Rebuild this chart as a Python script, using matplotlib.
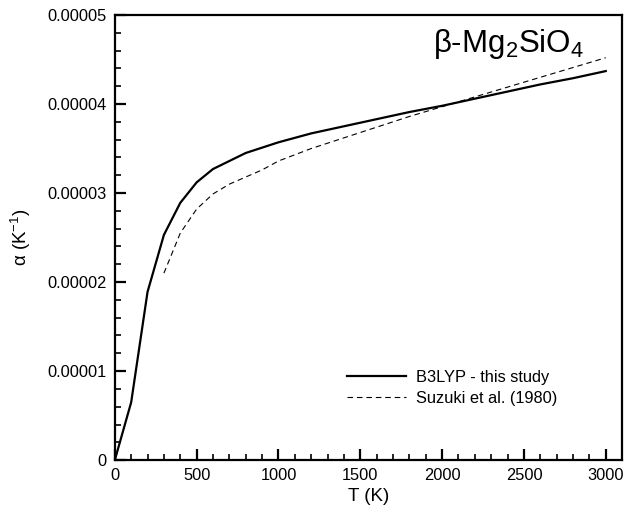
import numpy as np
import matplotlib
matplotlib.use("Agg")
import matplotlib.pyplot as plt
from matplotlib.ticker import MultipleLocator, FuncFormatter

plt.rcParams['font.family'] = ['Liberation Sans', 'DejaVu Sans']
plt.rcParams['mathtext.fontset'] = 'custom'
plt.rcParams['mathtext.rm'] = 'Liberation Sans'
plt.rcParams['mathtext.default'] = 'regular'

# B3LYP - this study
t_b3lyp = [0, 100, 200, 300, 400, 500, 600, 700, 800, 900, 1000, 1200, 1400,
           1600, 1800, 2000, 2200, 2400, 2600, 2800, 3000]
a_b3lyp = [0.0, 0.65, 1.89, 2.53, 2.89, 3.12, 3.27, 3.36, 3.45, 3.51, 3.57, 3.67,
           3.75, 3.83, 3.91, 3.98, 4.06, 4.14, 4.22, 4.29, 4.37]

# Suzuki et al. (1980)
t_suzuki = [300, 400, 500, 600, 700, 800, 900, 1000, 1200, 1400, 1600, 1800,
            2000, 2200, 2400, 2600, 2800, 3000]
a_suzuki = [2.10, 2.55, 2.82, 2.99, 3.10, 3.18, 3.26, 3.36, 3.50, 3.62, 3.74,
            3.86, 3.97, 4.08, 4.19, 4.30, 4.41, 4.52]

fig = plt.figure(figsize=(6.24, 5.17), dpi=100)
ax = fig.add_axes([0.184, 0.110, 0.813, 0.861])

ax.plot(t_b3lyp, np.array(a_b3lyp) * 1e-5, color='black', lw=1.6,
        label='B3LYP - this study')
ax.plot(t_suzuki, np.array(a_suzuki) * 1e-5, color='black', lw=0.8,
        dashes=(5, 3.5), label='Suzuki et al. (1980)')

ax.set_xlim(0, 3100)
ax.set_ylim(0, 0.00005)
ax.xaxis.set_major_locator(MultipleLocator(500))
ax.xaxis.set_minor_locator(MultipleLocator(100))
ax.yaxis.set_major_locator(MultipleLocator(0.00001))
ax.yaxis.set_minor_locator(MultipleLocator(0.000002))
ax.yaxis.set_major_formatter(FuncFormatter(lambda v, p: '0' if abs(v) < 1e-12 else f'{v:.5f}'))

ax.tick_params(which='both', direction='in', top=False, right=False, labelsize=11.8, width=1.2)
ax.tick_params(which='major', length=8, width=1.6, pad=6)
ax.tick_params(which='minor', length=4)
for s in ax.spines.values():
    s.set_linewidth(1.6)

ax.set_xlabel('T (K)', fontsize=13.5, labelpad=3)
ax.set_ylabel('α (K$^{-1}$)', fontsize=13.5, labelpad=10)

ax.text(0.925, 0.935, 'β-Mg$_2$SiO$_4$', transform=ax.transAxes, ha='right',
        va='center', fontsize=22.5)

ax.legend(loc='upper left', bbox_to_anchor=(0.445, 0.218), frameon=False,
          fontsize=11.8, handlelength=3.6, handletextpad=0.6, labelspacing=0.4,
          borderaxespad=0)

fig.savefig('out.png', dpi=100)
